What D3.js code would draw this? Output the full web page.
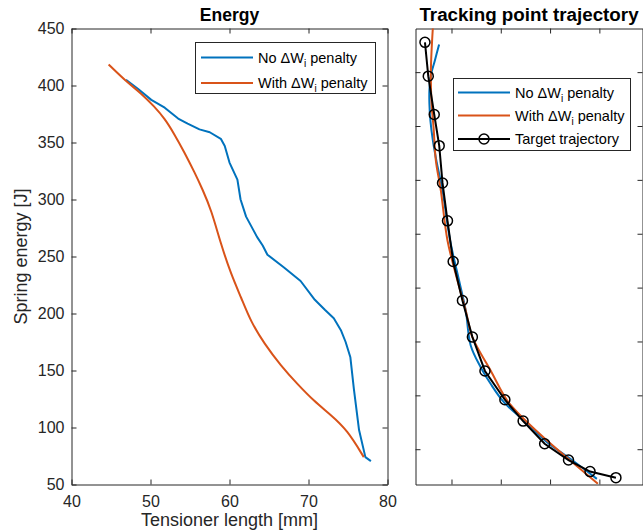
<!DOCTYPE html>
<html>
<head>
<meta charset="utf-8">
<script src="https://cdn.jsdelivr.net/npm/d3@7"></script>
<style>
body { margin: 0; background: white; }
text { font-family: "Liberation Sans", Arial, sans-serif; }
</style>
</head>
<body>
<svg></svg>
<script>
var w = 643
var h = 531
var blue = "#0072BD"
var orange = "#D95319"
var axisColor = "#262626"

// Energy panel: tensioner length [mm] vs spring energy [J]
var lenNo = [46.9, 48.4, 50.1, 51.8, 53.5, 54.7, 56.2, 57.5, 58.9, 59.4, 60.0, 61.0, 61.4, 62.1, 63.5, 64.2, 64.8, 66.9, 69.0, 70.8, 72.1, 73.2, 74.1, 74.7, 75.3, 75.75, 76.4, 77.2, 77.9]
var enNo = [405, 397.2, 387.4, 380.5, 371, 366.5, 361.5, 359, 353.2, 347, 332.4, 317.5, 300, 285, 267, 259.6, 251.6, 240.4, 228.5, 212, 203, 195.8, 185.4, 175, 161.6, 133.5, 97.8, 74, 70.5]
var lenWith = [44.7, 46.9, 48.8, 50.5, 51.8, 53.0, 54.3, 55.6, 56.6, 57.7, 58.9, 60.2, 61.5, 62.7, 64.4, 66.5, 68.6, 70.7, 72.8, 74.9, 77.0]
var enWith = [418.5, 403.7, 393.3, 381.4, 371, 357.6, 341.3, 323.5, 308.6, 290.8, 261.1, 234.4, 213.6, 192.8, 173.6, 154.2, 138, 123.1, 111.2, 97.8, 74]
var xTicksE = [40, 50, 60, 70, 80]
var yTicksE = [50, 100, 150, 200, 250, 300, 350, 400, 450]

// Trajectory panel (no tick labels shown, arbitrary units)
var trajNoX = [0.749, 0.663, 0.582, 0.552, 0.552, 0.572, 0.622, 0.693, 0.818, 0.972, 1.154, 1.289, 1.390, 1.592, 1.794, 2.063, 2.467, 2.939, 3.410, 3.949]
var trajNoY = [8.514, 8.217, 7.938, 7.660, 7.419, 7.103, 6.732, 6.360, 5.803, 4.875, 4.132, 3.575, 2.925, 2.522, 2.214, 1.873, 1.533, 1.130, 0.822, 0.450]
var trajWithX = [0.624, 0.582, 0.596, 0.636, 0.683, 0.784, 0.919, 1.121, 1.289, 1.424, 1.794, 2.131, 2.501, 2.939, 3.410, 3.970]
var trajWithY = [8.85, 8.031, 7.413, 6.978, 6.359, 5.803, 4.875, 4.132, 3.575, 3.079, 2.461, 1.904, 1.533, 1.161, 0.790, 0.358]
var targetX = [0.462, 0.529, 0.650, 0.751, 0.818, 0.919, 1.034, 1.222, 1.424, 1.679, 2.083, 2.453, 2.890, 3.374, 3.811, 4.336]
var targetY = [8.553, 7.925, 7.214, 6.635, 5.943, 5.239, 4.484, 3.761, 3.082, 2.453, 1.918, 1.522, 1.101, 0.799, 0.585, 0.472]
var xTicksT = [1, 2, 3, 4]
var yTicksT = [1, 2, 3, 4, 5, 6, 7, 8]

var legendNames = ["No ", "With "]

var svg = d3.select("svg")
	.attr("width", w)
	.attr("height", h)
	.style("background-color", "white")

var xE = d3.scaleLinear().domain([40, 80]).range([71.5, 387.5])
var yE = d3.scaleLinear().domain([50, 450]).range([484.5, 28.5])
var xT = d3.scaleLinear().domain([0.27, 4.875]).range([415.5, 642.5])
var yT = d3.scaleLinear().domain([0.345, 8.81]).range([484.5, 28.5])

function zip(a, b) {
	return a.map(function(d, i) { return [d, b[i]] })
}

function drawAxes(x, y, xt, yt, showLabels) {
	var g = svg.append("g")
	var x0 = x.range()[0], x1 = x.range()[1]
	var y0 = y.range()[0], y1 = y.range()[1]

	var bottom = d3.axisBottom(x).tickValues(xt).tickSizeInner(-5).tickSizeOuter(0).tickPadding(11)
	var left = d3.axisLeft(y).tickValues(yt).tickSizeInner(-5).tickSizeOuter(0).tickPadding(7)
	if (!showLabels) {
		bottom.tickFormat("")
		left.tickFormat("")
	}
	g.append("g").attr("transform", "translate(0," + y0 + ")").call(bottom)
	g.append("g").attr("transform", "translate(0," + y1 + ")")
		.call(d3.axisTop(x).tickValues(xt).tickSizeInner(-5).tickSizeOuter(0).tickFormat(""))
	g.append("g").attr("transform", "translate(" + x0 + ",0)").call(left)
	g.append("g").attr("transform", "translate(" + x1 + ",0)")
		.call(d3.axisRight(y).tickValues(yt).tickSizeInner(-5).tickSizeOuter(0).tickFormat(""))

	g.selectAll(".domain").attr("stroke", axisColor)
	g.selectAll(".tick line").attr("stroke", axisColor)
	g.selectAll(".tick text")
		.attr("fill", axisColor)
		.style("font-size", "16px")
		.style("font-family", "'Liberation Sans', Arial, sans-serif")
	return g
}

// ---------- Energy ----------
drawAxes(xE, yE, xTicksE, yTicksE, true)

var lineE = d3.line()
	.x(function(d) { return xE(d[0]) })
	.y(function(d) { return yE(d[1]) })

svg.append("path")
	.datum(zip(lenNo, enNo))
	.attr("d", lineE)
	.attr("fill", "none")
	.attr("stroke", blue)
	.attr("stroke-width", 2)
	.attr("stroke-linejoin", "round")

svg.append("path")
	.datum(zip(lenWith, enWith))
	.attr("d", lineE.curve(d3.curveBasis))
	.attr("fill", "none")
	.attr("stroke", orange)
	.attr("stroke-width", 2)

svg.append("text")
	.attr("x", (xE.range()[0] + xE.range()[1]) / 2)
	.attr("y", 21)
	.attr("text-anchor", "middle")
	.style("font-size", "17.5px")
	.style("font-weight", "bold")
	.text("Energy")

svg.append("text")
	.attr("x", (xE.range()[0] + xE.range()[1]) / 2)
	.attr("y", 526)
	.attr("text-anchor", "middle")
	.attr("fill", axisColor)
	.style("font-size", "18px")
	.text("Tensioner length [mm]")

svg.append("text")
	.attr("transform", "translate(27," + (yE.range()[0] + yE.range()[1]) / 2 + ") rotate(-90)")
	.attr("text-anchor", "middle")
	.attr("fill", axisColor)
	.style("font-size", "18px")
	.text("Spring energy [J]")

// ---------- Tracking point trajectory ----------
drawAxes(xT, yT, xTicksT, yTicksT, false)

svg.append("defs").append("clipPath")
	.attr("id", "clipT")
	.append("rect")
	.attr("x", 415.5).attr("y", 28.5)
	.attr("width", 227).attr("height", 456)

var lineT = d3.line()
	.x(function(d) { return xT(d[0]) })
	.y(function(d) { return yT(d[1]) })
	.curve(d3.curveCatmullRom.alpha(0.5))

var plotT = svg.append("g").attr("clip-path", "url(#clipT)")

plotT.append("path")
	.datum(zip(trajNoX, trajNoY))
	.attr("d", lineT)
	.attr("fill", "none")
	.attr("stroke", blue)
	.attr("stroke-width", 2)

plotT.append("path")
	.datum(zip(trajWithX, trajWithY))
	.attr("d", lineT)
	.attr("fill", "none")
	.attr("stroke", orange)
	.attr("stroke-width", 2)

plotT.append("path")
	.datum(zip(targetX, targetY))
	.attr("d", d3.line()
		.x(function(d) { return xT(d[0]) })
		.y(function(d) { return yT(d[1]) }))
	.attr("fill", "none")
	.attr("stroke", "black")
	.attr("stroke-width", 2)

plotT.selectAll(".target")
	.data(zip(targetX, targetY))
	.join("circle")
	.attr("class", "target")
	.attr("cx", function(d) { return xT(d[0]) })
	.attr("cy", function(d) { return yT(d[1]) })
	.attr("r", 5)
	.attr("fill", "none")
	.attr("stroke", "black")
	.attr("stroke-width", 1.5)

svg.append("text")
	.attr("x", (xT.range()[0] + xT.range()[1]) / 2)
	.attr("y", 21)
	.attr("text-anchor", "middle")
	.style("font-size", "18.8px")
	.style("font-weight", "bold")
	.text("Tracking point trajectory")

// ---------- legends ----------
function legendText(g, x, y, name) {
	var t = g.append("text")
		.attr("x", x)
		.attr("y", y + 5)
		.attr("fill", "black")
		.style("font-size", "14.5px")
	t.append("tspan").text(name + "\u0394W")
	t.append("tspan").attr("dy", 4).style("font-size", "10px").text("i")
	t.append("tspan").attr("dy", -4).text(" penalty")
}

function legendBox(x, y, bw, bh) {
	var g = svg.append("g")
	g.append("rect")
		.attr("x", x).attr("y", y)
		.attr("width", bw).attr("height", bh)
		.attr("fill", "white")
		.attr("stroke", axisColor)
		.attr("stroke-width", 1)
	return g
}

var legE = legendBox(195.5, 42.5, 180, 51)
var rowsE = [57.5, 83]
legendNames.forEach(function(name, i) {
	legE.append("line")
		.attr("x1", 201).attr("x2", 253)
		.attr("y1", rowsE[i]).attr("y2", rowsE[i])
		.attr("stroke", i == 0 ? blue : orange)
		.attr("stroke-width", 2)
	legendText(legE, 258, rowsE[i], name)
})

var legT = legendBox(453.5, 78.5, 177, 72)
var rowsT = [92.5, 115.5, 139]
legendNames.forEach(function(name, i) {
	legT.append("line")
		.attr("x1", 458).attr("x2", 510)
		.attr("y1", rowsT[i]).attr("y2", rowsT[i])
		.attr("stroke", i == 0 ? blue : orange)
		.attr("stroke-width", 2)
	legendText(legT, 515, rowsT[i], name)
})
legT.append("line")
	.attr("x1", 458).attr("x2", 510)
	.attr("y1", rowsT[2]).attr("y2", rowsT[2])
	.attr("stroke", "black")
	.attr("stroke-width", 2)
legT.append("circle")
	.attr("cx", 484).attr("cy", rowsT[2])
	.attr("r", 5)
	.attr("fill", "none")
	.attr("stroke", "black")
	.attr("stroke-width", 1.5)
legT.append("text")
	.attr("x", 515)
	.attr("y", rowsT[2] + 5)
	.style("font-size", "14.5px")
	.text("Target trajectory")
</script>
</body>
</html>
